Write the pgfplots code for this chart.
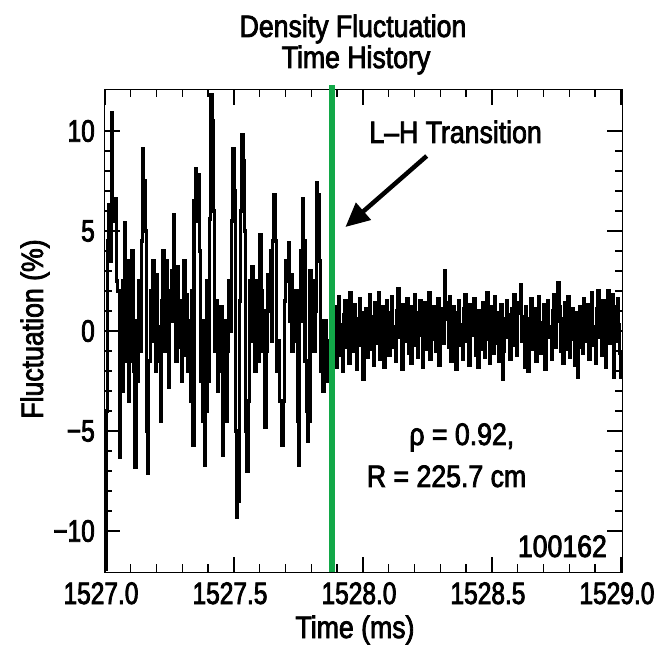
\documentclass[border=0pt]{standalone}
\usepackage{pgfplots}
\pgfplotsset{compat=1.18}
\usepackage{fontspec}
\usetikzlibrary{arrows.meta}
\setmainfont{Liberation Sans}[FakeStretch=0.86,FakeBold=2.5]
\newfontfamily\tickfont{Liberation Sans}[FakeStretch=0.79,FakeBold=2.5]
\definecolor{trgreen}{RGB}{18,168,72}
\newcommand{\bigfont}{\fontsize{31bp}{35bp}\selectfont}
\begin{document}
\begin{tikzpicture}
\begin{axis}[
  scale only axis, width=517bp, height=482bp,
  xmin=1527, xmax=1529.004, ymin=-12.05, ymax=12.05,
  clip=false,
  axis line style={line width=1bp},
  tick style={line width=1.4bp, black},
  tick align=inside,
  major tick length=15bp, minor tick length=7.5bp,
  xtick={1527,1527.5,1528,1528.5,1529},
  xticklabels={1527.0,1527.5,1528.0,1528.5,1529.0},
  minor x tick num=4,
  ytick={-10,-5,0,5,10},
  yticklabels={−10,−5,0,5,10},
  minor y tick num=4,
  xticklabel style={font=\tickfont\bigfont, anchor=base, yshift=-32bp, xshift=-4bp, inner sep=0pt},
  yticklabel style={font=\tickfont\bigfont, anchor=east, xshift=-10bp, inner sep=0pt},
]
\addplot[const plot, black, line width=3.2bp] coordinates {
(1527.000,-11.9)(1527.005,-4)(1527.010,4.5)(1527.015,6.3)(1527.020,3.5)(1527.025,10.9)(1527.030,6.5)(1527.035,5.5)(1527.040,6.6)(1527.045,2.5)
(1527.050,2)(1527.055,-6.3)(1527.060,0.5)(1527.065,-3)(1527.070,2.5)(1527.075,5.4)(1527.080,-1.5)(1527.085,3.5)(1527.090,-3.5)(1527.095,1)
(1527.100,-1.5)(1527.105,4.0)(1527.110,-2)(1527.115,-6.8)(1527.120,0.5)(1527.125,-2.5)(1527.130,2.5)(1527.135,-1)(1527.140,4.5)(1527.145,9.1)
(1527.150,7.5)(1527.155,5)(1527.160,-5)(1527.165,-7.1)(1527.170,-1.5)(1527.175,2)(1527.180,-0.5)(1527.185,3.5)(1527.190,0.5)(1527.195,-2)
(1527.200,2.8)(1527.205,0.2)(1527.210,-1.5)(1527.215,-4.5)(1527.220,1.5)(1527.225,4.0)(1527.230,-1)(1527.235,3.5)(1527.240,1.2)(1527.245,-2.8)
(1527.250,2)(1527.255,0.5)(1527.260,3)(1527.265,5.8)(1527.270,0.5)(1527.275,-1.5)(1527.280,3.2)(1527.285,-0.8)(1527.290,1.5)(1527.295,-2.5)
(1527.300,0.5)(1527.305,3.5)(1527.310,-1.2)(1527.315,1.8)(1527.320,-2)(1527.325,0.5)(1527.330,-3.5)(1527.335,2)(1527.340,-5.7)(1527.345,6.5)
(1527.350,8.1)(1527.355,5.5)(1527.360,7.8)(1527.365,4)(1527.370,-2.5)(1527.375,0.5)(1527.380,-4.5)(1527.385,-6.7)(1527.390,-4)(1527.395,2.5)
(1527.400,-2.5)(1527.405,5.6)(1527.410,11.8)(1527.415,10.5)(1527.420,6)(1527.425,-1)(1527.430,1.5)(1527.435,-3)(1527.440,0.5)(1527.445,-2)
(1527.450,1.2)(1527.455,-6.2)(1527.460,-4.5)(1527.465,0.5)(1527.470,-4.5)(1527.475,-1)(1527.480,2.5)(1527.485,0)(1527.490,5.5)(1527.495,9.1)
(1527.500,7)(1527.505,-5)(1527.510,-9.3)(1527.515,-8.5)(1527.520,1.5)(1527.525,6)(1527.530,9.8)(1527.535,8.5)(1527.540,5)(1527.545,-5)
(1527.550,-7.0)(1527.555,-3.5)(1527.560,2.5)(1527.565,-0.5)(1527.570,3.2)(1527.575,1)(1527.580,-2)(1527.585,2.5)(1527.590,0.5)(1527.595,-1.5)
(1527.600,4.8)(1527.605,2)(1527.610,-1)(1527.615,1)(1527.620,-4.8)(1527.625,-1)(1527.630,2.8)(1527.635,1)(1527.640,4)(1527.645,-0.5)
(1527.650,4.5)(1527.655,6.8)(1527.660,4.5)(1527.665,-2)(1527.670,-0.5)(1527.675,-3.5)(1527.680,-3.5)(1527.685,-5.7)(1527.690,-3.5)(1527.695,1.5)
(1527.700,3.5)(1527.705,2.5)(1527.710,4.4)(1527.715,0.5)(1527.720,2.8)(1527.725,-1)(1527.730,1.5)(1527.735,-0.5)(1527.740,2)(1527.745,-4.5)
(1527.750,-6.7)(1527.755,0.5)(1527.760,4)(1527.765,6.6)(1527.770,4.5)(1527.775,-1.5)(1527.780,-4)(1527.785,-5.5)(1527.790,-4.5)(1527.795,3)
(1527.800,0.5)(1527.805,2.5)(1527.810,-1)(1527.815,1)(1527.820,7.4)(1527.825,6.8)(1527.830,3.5)(1527.835,-2)(1527.840,0.5)(1527.845,-3)
(1527.850,-1)(1527.855,0.5)(1527.860,-2.5)(1527.865,-0.5)(1527.870,-1.5)(1527.875,1.0)
(1527.880,1.9)(1527.885,-0.5)(1527.890,1.2)(1527.895,-1.8)(1527.900,0.5)(1527.905,1.7)(1527.910,-1.2)(1527.915,0.3)(1527.920,-2.0)(1527.925,0.8)
(1527.930,1.5)(1527.935,-0.8)(1527.940,0.4)(1527.945,-1.6)(1527.950,1.9)(1527.955,0.2)(1527.960,-1.0)(1527.965,1.3)(1527.970,-0.3)(1527.975,-1.9)
(1527.980,0.6)(1527.985,1.6)(1527.990,-0.7)(1527.995,0.9)(1528.000,-2.4)(1528.005,-0.5)(1528.010,1.1)(1528.015,-1.3)(1528.020,0.4)(1528.025,1.8)
(1528.030,-0.9)(1528.035,0.7)(1528.040,-1.7)(1528.045,1.4)(1528.050,0.1)(1528.055,-0.6)(1528.060,1.9)(1528.065,-1.4)(1528.070,0.5)(1528.075,1.2)
(1528.080,-1.8)(1528.085,0.3)(1528.090,1.5)(1528.095,-0.4)(1528.100,-1.2)(1528.105,0.9)(1528.110,1.7)(1528.115,-0.8)(1528.120,0.2)(1528.125,-1.5)
(1528.130,1.0)(1528.135,2.1)(1528.140,-0.3)(1528.145,0.6)(1528.150,-1.9)(1528.155,1.3)(1528.160,-0.5)(1528.165,0.8)(1528.170,1.6)(1528.175,-1.1)
(1528.180,0.4)(1528.185,-1.6)(1528.190,1.2)(1528.195,0.0)(1528.200,1.8)(1528.205,-0.7)(1528.210,-1.3)(1528.215,0.9)(1528.220,1.5)(1528.225,-0.2)
(1528.230,-1.8)(1528.235,0.7)(1528.240,1.4)(1528.245,-0.9)(1528.250,0.3)(1528.255,1.9)(1528.260,-1.4)(1528.265,0.5)(1528.270,-0.4)(1528.275,1.2)
(1528.280,-1.0)(1528.285,0.8)(1528.290,1.6)(1528.295,-1.7)(1528.300,0.2)(1528.305,1.1)(1528.310,-0.6)(1528.315,3.0)(1528.320,1.4)(1528.325,0.6)
(1528.330,-0.8)(1528.335,1.7)(1528.340,-1.5)(1528.345,0.4)(1528.350,1.2)(1528.355,-0.3)(1528.360,-1.9)(1528.365,0.9)(1528.370,1.5)(1528.375,-0.7)
(1528.380,0.3)(1528.385,-1.4)(1528.390,1.1)(1528.395,1.8)(1528.400,-0.5)(1528.405,0.6)(1528.410,-1.7)(1528.415,1.3)(1528.420,-0.2)(1528.425,0.8)
(1528.430,1.6)(1528.435,-1.2)(1528.440,0.1)(1528.445,-1.8)(1528.450,1.0)(1528.455,0.5)(1528.460,-0.9)(1528.465,1.4)(1528.470,-1.3)(1528.475,0.7)
(1528.480,1.9)(1528.485,-0.4)(1528.490,-1.6)(1528.495,1.2)(1528.500,0.3)(1528.505,-1.1)(1528.510,1.7)(1528.515,-0.6)(1528.520,0.9)(1528.525,-1.5)
(1528.530,0.4)(1528.535,1.3)(1528.540,-2.4)(1528.545,-1.0)(1528.550,0.6)(1528.555,1.5)(1528.560,-0.3)(1528.565,0.8)(1528.570,-1.4)(1528.575,1.1)
(1528.580,-0.7)(1528.585,1.8)(1528.590,0.2)(1528.595,-1.2)(1528.600,0.9)(1528.605,1.4)(1528.610,2.3)(1528.615,-0.5)(1528.620,0.7)(1528.625,-1.8)
(1528.630,1.2)(1528.635,-0.2)(1528.640,-2.0)(1528.645,0.6)(1528.650,1.6)(1528.655,-0.9)(1528.660,0.3)(1528.665,1.1)(1528.670,-1.5)(1528.675,0.5)
(1528.680,1.7)(1528.685,-1.1)(1528.690,0.4)(1528.695,-0.6)(1528.700,1.3)(1528.705,-1.9)(1528.710,0.8)(1528.715,1.5)(1528.720,-0.3)(1528.725,0.2)
(1528.730,-1.4)(1528.735,1.0)(1528.740,1.8)(1528.745,-0.8)(1528.750,0.5)(1528.755,2.4)(1528.760,1.2)(1528.765,-1.0)(1528.770,0.6)(1528.775,-1.6)
(1528.780,1.4)(1528.785,0.1)(1528.790,-0.9)(1528.795,1.7)(1528.800,-1.3)(1528.805,0.7)(1528.810,1.1)(1528.815,-0.4)(1528.820,-1.7)(1528.825,0.9)
(1528.830,-2.3)(1528.835,-0.8)(1528.840,1.2)(1528.845,0.3)(1528.850,-1.1)(1528.855,1.6)(1528.860,-0.5)(1528.865,0.8)(1528.870,1.3)(1528.875,-1.4)
(1528.880,0.5)(1528.885,1.9)(1528.890,-0.7)(1528.895,0.2)(1528.900,-1.6)(1528.905,1.1)(1528.910,2.0)(1528.915,-0.3)(1528.920,0.9)(1528.925,-1.2)
(1528.930,1.5)(1528.935,0.4)(1528.940,-1.8)(1528.945,1.0)(1528.950,2.0)(1528.955,-0.6)(1528.960,0.7)(1528.965,1.8)(1528.970,-2.3)(1528.975,1.2)
(1528.980,-0.5)(1528.985,1.6)(1528.990,0.3)(1528.995,-1.1)(1529.000,-2.4)
};
\addplot[trgreen, line width=6.5bp] coordinates {(1527.88,-12.05) (1527.88,12.3)};
\draw[black, line width=4.5bp, -{Triangle[length=24bp,width=22bp]}] (axis cs:1528.247,8.75) -- (axis cs:1527.932,5.2);
\node[anchor=base, inner sep=0pt, font=\bigfont] at (axis cs:1528.359,9.4) {L–H Transition};
\node[anchor=base, inner sep=0pt, font=\bigfont] at (axis cs:1528.383,-5.7) {ρ = 0.92,};
\node[anchor=base, inner sep=0pt, font=\bigfont] at (axis cs:1528.324,-7.8) {R = 225.7 cm};
\node[anchor=base east, inner sep=0pt, font=\bigfont] at (axis cs:1528.946,-11.3) {100162};
\end{axis}
\node[anchor=base, inner sep=0pt, font=\bigfont] at (248bp,535bp) {Density Fluctuation};
\node[anchor=base, inner sep=0pt, font=\bigfont] at (251bp,504bp) {Time History};
\node[anchor=base, inner sep=0pt, font=\bigfont] at (250bp,-66bp) {Time (ms)};
\node[anchor=base, inner sep=0pt, rotate=90, font=\bigfont] at (-62bp,243bp) {Fluctuation (\%)};
\pgfresetboundingbox
\path[use as bounding box] (-105bp,-79bp) rectangle (549bp,572bp);
\end{tikzpicture}
\end{document}
